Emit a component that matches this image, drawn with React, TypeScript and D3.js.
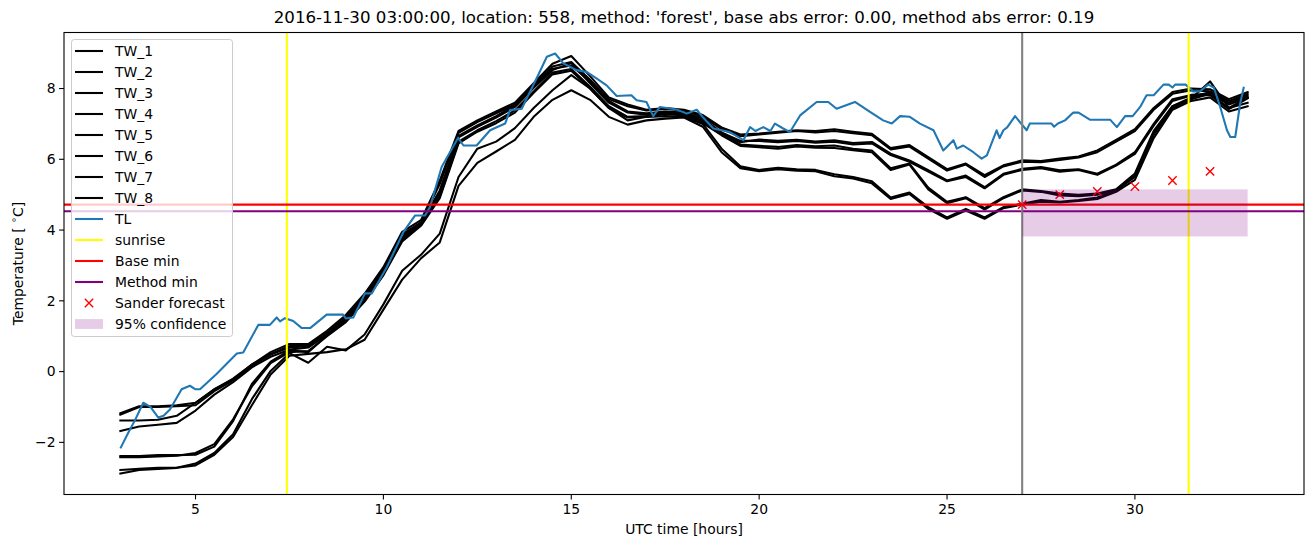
import React from "react";
import * as d3 from "d3";

const HOURS = [
  3, 3.5, 4, 4.5, 5, 5.5, 6, 6.5, 7, 7.5,
  8, 8.5, 9, 9.5, 10, 10.5, 11, 11.5, 12, 12.5,
  13, 13.5, 14, 14.5, 15, 15.5, 16, 16.5, 17, 17.5,
  18, 18.5, 19, 19.5, 20, 20.5, 21, 21.5, 22, 22.5,
  23, 23.5, 24, 24.5, 25, 25.5, 26, 26.5, 27, 27.5,
  28, 28.5, 29, 29.5, 30, 30.5, 31, 31.5, 32, 32.5,
  33,
];

const TW_1 = [
  -1.18, -0.98, -0.98, -0.95, -0.88, -0.5, -0.2, 0.2, 0.55, 0.78,
  0.78, 1.15, 1.6, 2.2, 2.95, 3.95, 4.28, 5.4, 6.8, 7.1,
  7.35, 7.6, 8.15, 8.7, 8.92, 8.35, 7.75, 7.55, 7.4, 7.45,
  7.4, 7.25, 6.9, 6.7, 6.73, 6.78, 6.82, 6.8, 6.85, 6.78,
  6.72, 6.32, 6.4, 6.06, 5.72, 5.88, 5.55, 5.83, 5.97, 5.95,
  6.02, 6.08, 6.25, 6.55, 6.85, 7.45, 7.9, 8.0, 7.98, 7.7,
  7.9,
];
const TW_2 = [
  -1.22, -1.0, -1.0, -0.98, -0.95, -0.55, -0.25, 0.15, 0.5, 0.72,
  0.74, 1.1, 1.55, 2.15, 2.9, 3.88, 4.22, 5.3, 6.75, 7.05,
  7.3, 7.55, 8.1, 8.62, 8.75, 8.25, 7.7, 7.5, 7.38, 7.42,
  7.38, 7.2, 6.85, 6.65, 6.7, 6.75, 6.8, 6.76, 6.8, 6.74,
  6.68, 6.28, 6.36, 6.02, 5.68, 5.85, 5.5, 5.8, 5.93, 5.92,
  5.98, 6.05, 6.2, 6.5, 6.8, 7.4, 7.85, 7.95, 7.92, 7.65,
  7.85,
];
const TW_3 = [
  -1.38, -1.38, -1.36, -1.25, -0.88, -0.5, -0.22, 0.2, 0.48, 0.68,
  0.72, 1.02, 1.48, 2.08, 2.82, 3.78, 4.18, 5.05, 6.62, 6.92,
  7.18, 7.48, 8.02, 8.52, 8.72, 8.15, 7.6, 7.32, 7.26, 7.32,
  7.3, 7.1, 6.72, 6.48, 6.56, 6.52, 6.55, 6.5, 6.54, 6.46,
  6.49, 6.16, 5.97, 5.69, 5.4, 5.54, 5.21, 5.59, 5.73, 5.78,
  5.69, 5.72, 5.59, 5.85, 6.2, 7.0, 7.7, 7.82, 7.85, 7.45,
  7.75,
];
const TW_4 = [
  -1.68, -1.55, -1.5, -1.45, -1.1, -0.65, -0.3, 0.12, 0.42, 0.62,
  0.68, 1.05, 1.5, 2.1, 2.85, 3.82, 4.2, 5.12, 6.66, 6.96,
  7.22, 7.52, 8.06, 8.56, 8.65, 8.2, 7.65, 7.35, 7.3, 7.35,
  7.32, 7.15, 6.76, 6.52, 6.52, 6.48, 6.52, 6.47, 6.5, 6.42,
  6.45, 6.12, 5.93, 5.65, 5.38, 5.5, 5.18, 5.56, 5.7, 5.75,
  5.65, 5.7, 5.56, 5.82, 6.15, 6.95, 7.65, 7.8, 7.82, 7.42,
  7.72,
];
const TW_5 = [
  -2.39, -2.39, -2.36, -2.36, -2.35, -2.12, -1.4, -0.35, 0.28, 0.6,
  0.55, 1.02, 1.42, 2.0, 2.75, 3.72, 4.15, 4.95, 6.5, 6.82,
  7.08, 7.38, 7.92, 8.45, 8.55, 8.05, 7.5, 7.2, 7.22, 7.3,
  7.26, 7.06, 6.7, 6.42, 6.38, 6.35, 6.4, 6.37, 6.39, 6.3,
  6.25, 5.75, 5.88, 5.2, 4.8, 4.93, 4.62, 4.93, 5.15, 5.1,
  5.03, 5.0, 5.03, 5.15, 5.6, 6.8, 7.5, 7.75, 7.9, 7.6,
  7.8,
];
const TW_6 = [
  -2.42, -2.42, -2.4, -2.38, -2.3, -2.05, -1.35, -0.42, 0.24, 0.55,
  0.58, 1.0, 1.4, 1.98, 2.72, 3.68, 4.12, 4.9, 6.45, 6.78,
  7.02, 7.32, 7.88, 8.4, 8.5, 8.0, 7.45, 7.18, 7.2, 7.28,
  7.24, 7.02, 6.68, 6.38, 6.34, 6.3, 6.36, 6.33, 6.32, 6.26,
  6.2, 5.7, 5.85, 5.15, 4.76, 4.9, 4.58, 4.9, 5.12, 5.08,
  4.98, 4.96, 5.0, 5.12, 5.55, 6.7, 7.45, 7.7, 7.85, 7.55,
  7.75,
];
const TW_7 = [
  -2.78, -2.75, -2.72, -2.72, -2.6, -2.3, -1.77, -0.78, 0.02, 0.52,
  0.25, 0.7, 0.6, 1.05, 1.9, 2.85, 3.3, 3.9, 5.5, 6.3,
  6.5, 6.88, 7.45, 7.95, 8.38, 8.0, 7.45, 7.1, 7.2, 7.22,
  7.2, 7.0, 6.3, 5.8, 5.7, 5.76, 5.72, 5.7, 5.58, 5.5,
  5.38, 4.92, 5.06, 4.65, 4.36, 4.6, 4.36, 4.65, 4.74, 4.85,
  4.8, 4.85, 4.92, 5.12, 5.5, 6.75, 7.5, 7.72, 8.2, 7.45,
  7.6,
];
const TW_8 = [
  -2.88, -2.78, -2.75, -2.72, -2.65, -2.35, -1.85, -0.95, -0.08, 0.45,
  0.5, 0.55, 0.63, 0.9, 1.75, 2.6, 3.2, 3.65, 5.25, 5.9,
  6.22, 6.55, 7.2, 7.68, 7.95, 7.68, 7.2, 6.98, 7.1, 7.15,
  7.18, 6.92, 6.2, 5.75, 5.66, 5.72, 5.68, 5.66, 5.52, 5.46,
  5.32, 4.88, 5.02, 4.6, 4.32, 4.55, 4.32, 4.62, 4.72, 4.8,
  4.78, 4.82, 4.88, 5.08, 5.42, 6.6, 7.4, 7.65, 7.75, 7.35,
  7.5,
];

const TW_NAMES = ["TW_1", "TW_2", "TW_3", "TW_4", "TW_5", "TW_6", "TW_7", "TW_8"];
const TW_SERIES = [TW_1, TW_2, TW_3, TW_4, TW_5, TW_6, TW_7, TW_8];

const TL_HOURS = [
  3.0, 3.2, 3.4, 3.61, 3.8, 4.01, 4.15, 4.32, 4.63, 4.85,
  5.0, 5.12, 5.56, 6.1, 6.27, 6.67, 6.98, 7.16, 7.25, 7.38,
  7.6, 7.83, 8.05, 8.49, 8.93, 9.0, 9.2, 9.51, 9.69, 10.09,
  10.53, 10.84, 11.11, 11.24, 11.55, 11.99, 12.13, 12.48, 12.84, 13.24,
  13.37, 13.68, 14.12, 14.35, 14.57, 14.79, 15.14, 15.41, 15.68, 15.94,
  16.21, 16.6, 16.74, 17.0, 17.18, 17.36, 17.8, 18.07, 18.34, 18.51,
  18.78, 19.22, 19.58, 19.76, 19.9, 20.11, 20.3, 20.42, 20.64, 20.82,
  21.09, 21.53, 21.84, 22.06, 22.55, 22.95, 23.3, 23.53, 23.75, 24.01,
  24.28, 24.64, 24.9, 25.17, 25.26, 25.43, 25.7, 25.92, 26.06, 26.32,
  26.4, 26.5, 26.6, 26.81, 27.12, 27.2, 27.78, 27.85, 27.95, 28.14,
  28.36, 28.5, 28.8, 29.34, 29.52, 29.74, 29.94, 30.14, 30.31, 30.5,
  30.76, 30.9, 31.0, 31.07, 31.35, 31.55, 31.73, 31.95, 32.1, 32.27,
  32.45, 32.54, 32.67, 32.8, 32.9,
];
const TL_VALUES = [
  -2.17, -1.75, -1.35, -0.88, -1.0, -1.3, -1.25, -1.07, -0.5, -0.4,
  -0.5, -0.5, -0.07, 0.51, 0.54, 1.32, 1.32, 1.53, 1.42, 1.51,
  1.43, 1.23, 1.23, 1.61, 1.61, 1.5, 1.53, 2.21, 2.21, 2.95,
  3.94, 4.41, 4.41, 4.65, 5.78, 6.61, 6.39, 6.39, 6.82, 7.01,
  7.39, 7.43, 8.38, 8.9, 8.99, 8.71, 8.52, 8.47, 8.28, 8.09,
  7.79, 7.81, 7.67, 7.62, 7.22, 7.48, 7.41, 7.29, 7.4, 7.18,
  6.87, 6.77, 6.54, 6.91, 6.8, 6.91, 6.8, 7.01, 6.87, 6.77,
  7.24, 7.62, 7.62, 7.43, 7.62, 7.34, 7.1, 7.01, 7.22, 7.2,
  7.01, 6.82, 6.25, 6.54, 6.3, 6.39, 6.2, 6.02, 6.11, 6.82,
  6.6, 6.82, 6.9, 7.22, 6.82, 7.01, 7.01, 6.92, 7.01, 7.1,
  7.32, 7.32, 7.12, 7.12, 6.91, 7.22, 7.22, 7.48, 7.81, 7.81,
  8.11, 8.11, 8.03, 8.11, 8.11, 7.92, 7.92, 8.11, 8.03, 7.48,
  6.82, 6.63, 6.63, 7.57, 8.05,
];

const SUNRISE_HOURS = [7.43, 31.43];
const FORECAST_HOUR = 27;
const BASE_MIN = 4.72;
const METHOD_MIN = 4.53;
const SANDER_HOURS = [27, 28, 29, 30, 31, 32];
const SANDER_VALUES = [4.72, 5.0, 5.09, 5.23, 5.4, 5.66];
const CONF_HOURS = [27, 33];
const CONF_RANGE = [3.82, 5.15];
const X_TICKS = [5, 10, 15, 20, 25, 30];
const Y_TICKS = [-2, 0, 2, 4, 6, 8];
const TITLE =
  "2016-11-30 03:00:00, location: 558, method: 'forest', base abs error: 0.00, method abs error: 0.19";

const W = 1313;
const H = 547;
const L = 64;
const R = 1304;
const T = 32.5;
const B = 494.5;
const FONT = "DejaVu Sans, sans-serif";
const FS = 13.9;
const LW = 2.08;
const BLUE = "#1f77b4";
const PURPLE = "#800080";

export default function App() {
  const allX = [...HOURS, ...TL_HOURS];
  const allY = [...TW_SERIES.flat(), ...TL_VALUES];
  const [x0, x1] = d3.extent(allX) as [number, number];
  const [y0, y1] = d3.extent(allY) as [number, number];
  const xp = (x1 - x0) * 0.05;
  const yp = (y1 - y0) * 0.05;
  const x = d3.scaleLinear().domain([x0 - xp, x1 + xp]).range([L, R]);
  const y = d3.scaleLinear().domain([y0 - yp, y1 + yp]).range([B, T]);

  const line = d3
    .line<[number, number]>()
    .x((d) => x(d[0]))
    .y((d) => y(d[1]));

  const twPaths = TW_SERIES.map((s) => line(HOURS.map((h, i) => [h, s[i]] as [number, number])) || "");
  const tlPath = line(TL_HOURS.map((h, i) => [h, TL_VALUES[i]] as [number, number])) || "";

  const fmt = (v: number) => (v < 0 ? "\u2212" + Math.abs(v) : String(v));

  const legendItems: { label: string; kind: string; color: string }[] = [
    ...TW_NAMES.map((n) => ({ label: n, kind: "line", color: "#000" })),
    { label: "TL", kind: "line", color: BLUE },
    { label: "sunrise", kind: "line", color: "#ffff00" },
    { label: "Base min", kind: "line", color: "#ff0000" },
    { label: "Method min", kind: "line", color: PURPLE },
    { label: "Sander forecast", kind: "x", color: "#ff0000" },
    { label: "95% confidence", kind: "patch", color: PURPLE },
  ];

  const ms = 4.17;
  return (
    <svg
      width={W}
      height={H}
      style={{ position: "absolute", left: 0, top: 0, background: "#fff" }}
      fontFamily={FONT}
    >
      <rect x={0} y={0} width={W} height={H} fill="#fff" />
      <defs>
        <clipPath id="plot">
          <rect x={L} y={T} width={R - L} height={B - T} />
        </clipPath>
      </defs>
      <g clipPath="url(#plot)">
        {twPaths.map((p, i) => (
          <path key={i} d={p} fill="none" stroke="#000" strokeWidth={LW} strokeLinejoin="round" strokeLinecap="square" />
        ))}
        <path d={tlPath} fill="none" stroke={BLUE} strokeWidth={LW} strokeLinejoin="round" />
        {SUNRISE_HOURS.map((h, i) => (
          <line key={i} x1={x(h)} x2={x(h)} y1={T} y2={B} stroke="#ffff00" strokeWidth={LW} />
        ))}
        <line x1={L} x2={R} y1={y(BASE_MIN)} y2={y(BASE_MIN)} stroke="#ff0000" strokeWidth={LW} />
        <line x1={L} x2={R} y1={y(METHOD_MIN)} y2={y(METHOD_MIN)} stroke={PURPLE} strokeWidth={LW} />
        <line x1={x(FORECAST_HOUR)} x2={x(FORECAST_HOUR)} y1={T} y2={B} stroke="#808080" strokeWidth={LW} />
        {SANDER_HOURS.map((h, i) => {
          const cx = x(h);
          const cy = y(SANDER_VALUES[i]);
          return (
            <path
              key={i}
              d={`M${cx - ms},${cy - ms}L${cx + ms},${cy + ms}M${cx - ms},${cy + ms}L${cx + ms},${cy - ms}`}
              stroke="#ff0000"
              strokeWidth={1.4}
            />
          );
        })}
        <rect
          x={x(CONF_HOURS[0])}
          y={y(CONF_RANGE[1])}
          width={x(CONF_HOURS[1]) - x(CONF_HOURS[0])}
          height={y(CONF_RANGE[0]) - y(CONF_RANGE[1])}
          fill={PURPLE}
          fillOpacity={0.2}
        />
      </g>
      <rect x={L} y={T} width={R - L} height={B - T} fill="none" stroke="#000" strokeWidth={1.1} />
      {X_TICKS.map((t) => (
        <g key={t} transform={`translate(${x(t)},${B})`}>
          <line y1={0} y2={4.9} stroke="#000" strokeWidth={1.1} />
          <text y={19} textAnchor="middle" fontSize={FS} fill="#000">
            {fmt(t)}
          </text>
        </g>
      ))}
      {Y_TICKS.map((t) => (
        <g key={t} transform={`translate(${L},${y(t)})`}>
          <line x1={0} x2={-4.9} stroke="#000" strokeWidth={1.1} />
          <text x={-8.5} dy="0.35em" textAnchor="end" fontSize={FS} fill="#000">
            {fmt(t)}
          </text>
        </g>
      ))}
      <text x={(L + R) / 2} y={534} textAnchor="middle" fontSize={FS} fill="#000">
        UTC time [hours]
      </text>
      <text
        transform={`translate(23,${(T + B) / 2}) rotate(-90)`}
        textAnchor="middle"
        fontSize={FS}
        fill="#000"
      >
        Temperature [ <tspan fontSize={FS * 0.7} dy={-6}>{"\u2218"}</tspan>
        <tspan dy={6}>C]</tspan>
      </text>
      <text x={(L + R) / 2} y={23} textAnchor="middle" fontSize={16.67} fill="#000">
        {TITLE}
      </text>
      <g>
        <rect x={71.5} y={39.5} width={161} height={297} rx={2.8} fill="#fff" fillOpacity={0.8} stroke="#cccccc" strokeWidth={1} />
        {legendItems.map((it, i) => {
          const cy = 51 + i * 21;
          return (
            <g key={it.label}>
              {it.kind === "line" && (
                <line x1={75} x2={103} y1={cy} y2={cy} stroke={it.color} strokeWidth={LW} />
              )}
              {it.kind === "x" && (
                <path
                  d={`M${89 - ms},${cy - ms}L${89 + ms},${cy + ms}M${89 - ms},${cy + ms}L${89 + ms},${cy - ms}`}
                  stroke={it.color}
                  strokeWidth={1.4}
                />
              )}
              {it.kind === "patch" && (
                <rect x={75} y={cy - 4.9} width={28} height={9.8} fill={it.color} fillOpacity={0.2} />
              )}
              <text x={115} y={cy} dy="0.35em" fontSize={FS} fill="#000">
                {it.label}
              </text>
            </g>
          );
        })}
      </g>
    </svg>
  );
}
